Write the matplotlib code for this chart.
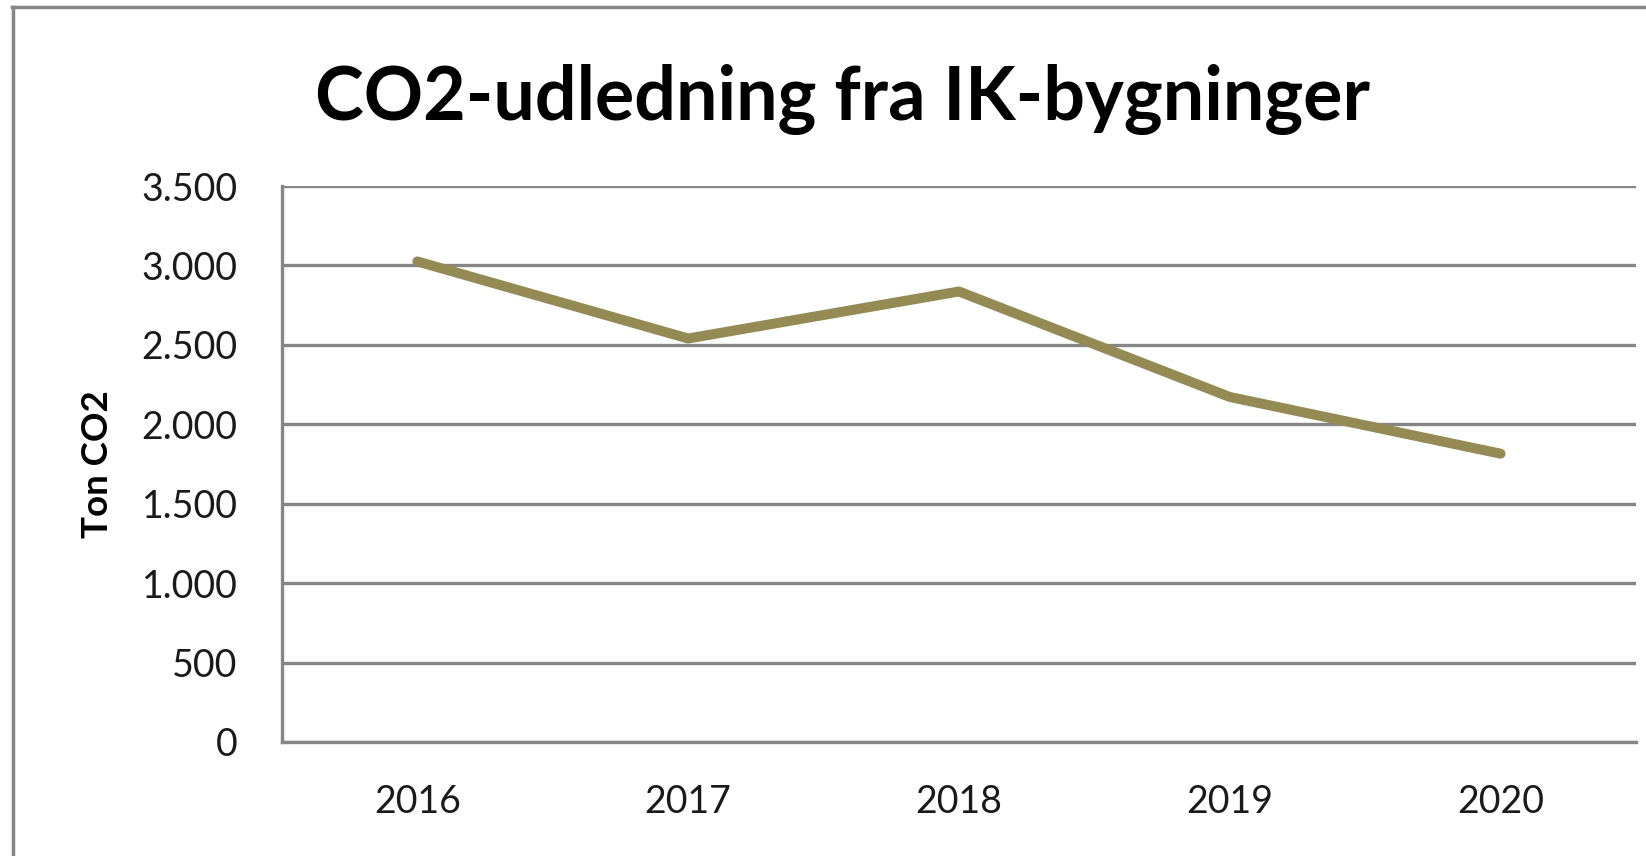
import matplotlib
matplotlib.use("Agg")
import matplotlib.pyplot as plt
from matplotlib.lines import Line2D
from matplotlib.ticker import FuncFormatter

plt.rcParams['font.family'] = ['Lato', 'DejaVu Sans']

years = ["2016", "2017", "2018", "2019", "2020"]
ton_co2 = [3025, 2540, 2836, 2172, 1815]
yticks = [0, 500, 1000, 1500, 2000, 2500, 3000, 3500]

LINE = "#948A54"
GRID = "#868686"

fig = plt.figure(figsize=(16.46, 8.56), dpi=100)
ax = fig.add_axes([0.1713, 0.1332, 0.8226, 0.6495])

x = list(range(len(years)))
ax.plot(x, ton_co2, color=LINE, lw=7.2, solid_capstyle="round",
        solid_joinstyle="round", zorder=3)

ax.set_xlim(-0.5, len(years) - 0.5)
ax.set_ylim(0, 3500)
ax.set_xticks(x)
ax.set_xticklabels(years)
ax.set_yticks(yticks)
ax.yaxis.set_major_formatter(FuncFormatter(lambda v, p: f"{int(v):,}".replace(",", ".")))
ax.tick_params(length=0, labelsize=27, colors="#1a1a1a", pad=30)
ax.tick_params(axis="y", pad=32)

ax.grid(axis="y", color=GRID, lw=2.4)
ax.set_axisbelow(True)
for side in ("top", "right"):
    ax.spines[side].set_visible(False)
for side in ("left", "bottom"):
    ax.spines[side].set_color(GRID)
    ax.spines[side].set_linewidth(2.4)

ax.set_ylabel("Ton CO2", fontsize=26.5, fontweight="bold", labelpad=20)
fig.text(0.512, 0.884, "CO2-udledning fra IK-bygninger", ha="center", va="center",
         fontsize=53, fontweight="bold")

# outer chart border (only top and left are inside the crop)
fig.add_artist(Line2D([0.0079, 0.0079], [0.0, 0.9918], color=GRID, lw=2.5,
                      transform=fig.transFigure))
fig.add_artist(Line2D([0.0073, 1.0], [0.9918, 0.9918], color=GRID, lw=2.5,
                      transform=fig.transFigure))

fig.savefig("out.png", dpi=100)
